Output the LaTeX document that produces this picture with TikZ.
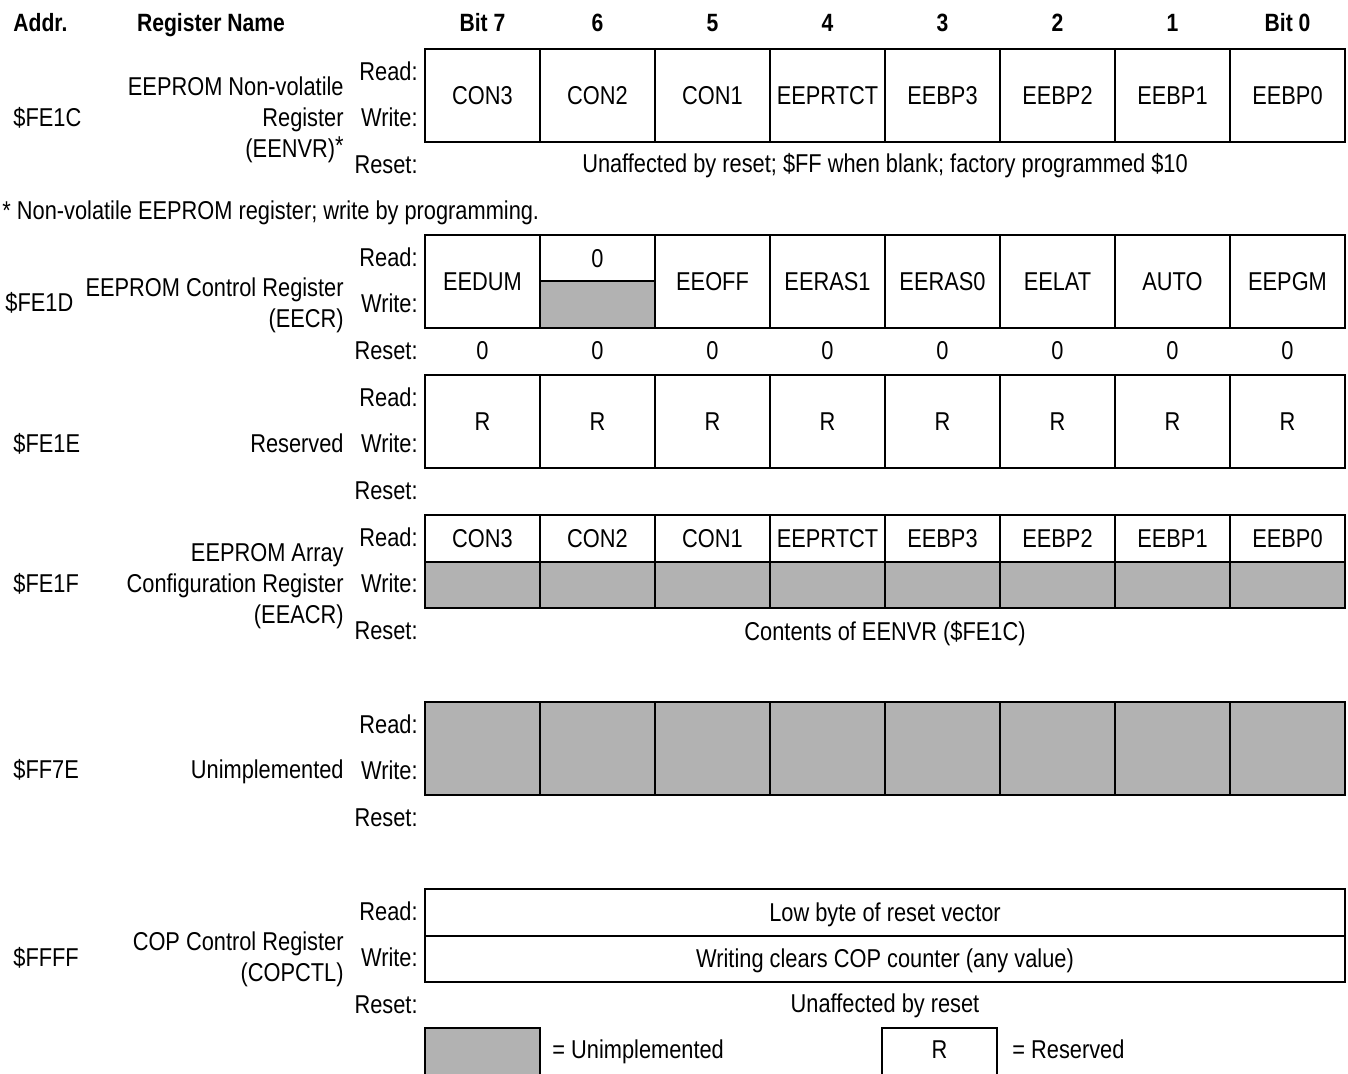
\documentclass[tikz,border=0pt]{standalone}
\usepackage{fontspec}
\setmainfont[FakeStretch=0.845]{Liberation Sans}
\colorlet{unimpgray}{black!30}
% labels of one register row, top edge of its box given
\newcommand{\rwrlabels}[2]{%
  \node[lbl] (#1read)  at (418,#2+22)  {Read:};
  \node[lbl] (#1write) at (418,#2+68)  {Write:};
  \node[lbl] (#1reset) at (418,#2+115) {Reset:};}
\begin{document}
\begin{tikzpicture}[x=0.5pt,y=-0.5pt,
  every node/.style={font=\fontsize{12.9}{15}\selectfont,inner sep=0pt,text height=9.2pt,text depth=0pt},
  hdr/.style={font=\fontsize{12.5}{15}\selectfont\bfseries},
  lbl/.style={anchor=east},
  addr/.style={anchor=west},
  cell/.style={draw,line width=1pt,minimum width=57.5pt,minimum height=46.5pt},
  half/.style={cell,minimum height=23.25pt},
  unimp/.style={fill=unimpgray}]
\useasboundingbox (0,0) rectangle (1348,1074);
\clip (0,0) rectangle (1348,1074);

% header
\node[hdr,anchor=west] (haddr) at (13,22) {Addr.};
\node[hdr] (hname) at (211,22) {Register Name};
\foreach \b [count=\i from 0] in {Bit 7,6,5,4,3,2,1,Bit 0}
  \node[hdr] (hbit\i) at (482.5+115*\i,22) {\b};

% $FE1C
\node[addr] (nvraddr) at (13,117) {\$FE1C};
\node[lbl] (nvrname1) at (344,86) {EEPROM Non-volatile};
\node[lbl] (nvrname2) at (344,117) {Register};
\node[lbl] (nvrname3) at (344,148) {(EENVR)\raisebox{1.5pt}{*}};
\rwrlabels{nvr}{49}
\foreach \n [count=\i from 0] in {CON3,CON2,CON1,EEPRTCT,EEBP3,EEBP2,EEBP1,EEBP0}
  \node[cell] (nvr\i) at (482.5+115*\i,95.5) {\n};
\node (nvrval) at (885,163) {Unaffected by reset; \$FF when blank; factory programmed \$10};
\node[anchor=west] (note) at (2,210) {* Non-volatile EEPROM register; write by programming.};

% $FE1D
\node[addr] (ecraddr) at (5,302) {\$FE1D};
\node[lbl] (ecrname1) at (344,287) {EEPROM Control Register};
\node[lbl] (ecrname2) at (344,318) {(EECR)};
\rwrlabels{ecr}{235}
\foreach \n/\i in {EEDUM/0,EEOFF/2,EERAS1/3,EERAS0/4,EELAT/5,AUTO/6,EEPGM/7}
  \node[cell] (ecr\i) at (482.5+115*\i,281.5) {\n};
\node[half] (ecr1a) at (597.5,258.25) {0};
\node[half,unimp] (ecr1b) at (597.5,304.75) {};
\foreach \i in {0,...,7}
  \node (ecrval\i) at (482.5+115*\i,350) {0};

% $FE1E
\node[addr] (resaddr) at (13,443) {\$FE1E};
\node[lbl] (resname) at (344,443) {Reserved};
\rwrlabels{res}{375}
\foreach \i in {0,...,7}
  \node[cell] (res\i) at (482.5+115*\i,421.5) {R};

% $FE1F
\node[addr] (acraddr) at (13,583) {\$FE1F};
\node[lbl] (acrname1) at (344,552) {EEPROM Array};
\node[lbl] (acrname2) at (344,583) {Configuration Register};
\node[lbl] (acrname3) at (344,614) {(EEACR)};
\rwrlabels{acr}{515}
\foreach \n [count=\i from 0] in {CON3,CON2,CON1,EEPRTCT,EEBP3,EEBP2,EEBP1,EEBP0}{
  \node[half] (acr\i a) at (482.5+115*\i,538.25) {\n};
  \node[half,unimp] (acr\i b) at (482.5+115*\i,584.75) {};}
\node (acrval) at (885,631) {Contents of EENVR (\$FE1C)};

% $FF7E
\node[addr] (unaddr) at (13,769) {\$FF7E};
\node[lbl] (unname) at (344,769) {Unimplemented};
\rwrlabels{un}{702}
\foreach \i in {0,...,7}
  \node[cell,unimp] (un\i) at (482.5+115*\i,748.5) {};

% $FFFF
\node[addr] (copaddr) at (13,957) {\$FFFF};
\node[lbl] (copname1) at (344,941) {COP Control Register};
\node[lbl] (copname2) at (344,972) {(COPCTL)};
\rwrlabels{cop}{889}
\node[half,minimum width=460pt] (copread) at (885,912.25) {Low byte of reset vector};
\node[half,minimum width=460pt] (copwrite) at (885,958.75) {Writing clears COP counter (any value)};
\node (copval) at (885,1003) {Unaffected by reset};

% key
\node[cell,unimp,minimum height=26pt] (keyunimp) at (482.5,1054) {};
\node[anchor=west] (keyunimptext) at (552,1049) {= Unimplemented};
\node[cell,minimum height=26pt] (keyres) at (939.5,1054) {};
\node (keyR) at (939.5,1049) {R};
\node[anchor=west] (keyrestext) at (1012,1049) {= Reserved};
\end{tikzpicture}
\end{document}
